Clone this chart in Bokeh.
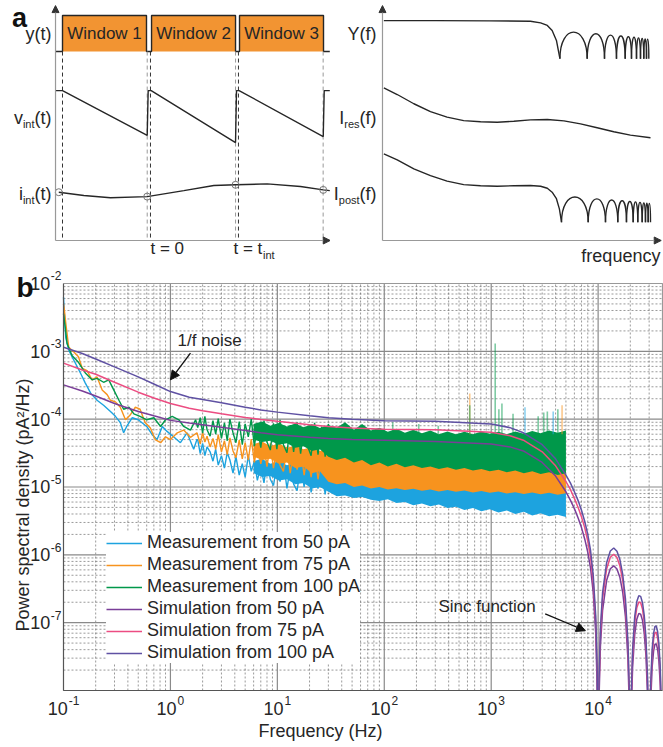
import math
from bokeh.plotting import figure
from bokeh.layouts import column, row
from bokeh.models import Arrow, NormalHead, Legend, LegendItem, Range1d
from bokeh.core.properties import value
from bokeh.embed import file_html
from bokeh.resources import INLINE

FONT = "Liberation Sans"
INK = "#262626"

# ================= panel a (schematic) data =================
# time axis in window-period units, amplitude in arbitrary 0..100 units
win_start = [0.0, 1.006, 2.0]
win_end = [0.949, 1.955, 2.949]
win_labels = ["Window 1", "Window 2", "Window 3"]
y_low, y_high = 81.8, 97.4
start_lines_t = [0.0, 0.994, 1.988]
end_lines_t = [0.957, 1.955, 2.945]

v_t = [-0.079, 0.0, 0.957, 0.968, 1.002, 1.955, 1.966, 1.995, 2.946, 2.957, 3.02]
v_val = [64.9, 64.9, 45.5, 64.9, 64.9, 42.4, 64.9, 64.9, 45.0, 64.9, 64.9]

i_t = [-0.042, 0.241, 0.542, 0.957, 1.371, 1.71, 1.955, 2.313, 2.689, 2.946, 3.02]
i_val = [20.9, 19.5, 18.5, 19.0, 21.6, 23.8, 24.1, 24.5, 23.4, 21.9, 21.6]
i_sample_t = [-0.042, 0.957, 1.955, 2.946]
i_sample_v = [20.9, 19.0, 24.1, 21.9]

# frequency-domain schematic (frequency 0..1)
Y_f = [0.005, 0.2, 0.4, 0.552, 0.59, 0.615, 0.633, 0.649, 0.662]
Y_v = [95.2, 95.2, 95.1, 94.9, 94.2, 93.1, 90.9, 86.6, 78.7]
Y_nulls = [0.662, 0.7638, 0.8284, 0.8731, 0.9056, 0.9291, 0.9478, 0.9627, 0.9750, 0.9851, 0.9937]
Y_tops = [90.2, 89.5, 88.9, 88.5, 88.2, 88.0, 87.7, 87.5, 87.3, 87.1]
Y_null_level = 78.7

Ires_f = [0.005, 0.055, 0.117, 0.179, 0.241, 0.303, 0.366, 0.428, 0.49, 0.552, 0.615, 0.677, 0.739, 0.801, 0.863, 0.925, 1.0]
Ires_v = [66.1, 63.2, 59.2, 55.8, 53.4, 51.9, 51.4, 51.2, 51.6, 52.2, 52.4, 51.8, 50.5, 48.8, 47.1, 45.6, 44.5]

Ipost_f = [0.005, 0.055, 0.117, 0.179, 0.241, 0.303, 0.366, 0.428, 0.49, 0.552, 0.59, 0.615, 0.633, 0.649, 0.660, 0.668]
Ipost_v = [37.5, 34.9, 31.0, 28.1, 25.7, 24.2, 23.7, 23.5, 23.7, 23.8, 23.5, 22.6, 20.9, 18.1, 13.7, 7.9]
Ipost_nulls = [0.668, 0.7675, 0.8321, 0.878, 0.9104, 0.9354, 0.9526, 0.969, 0.9813, 0.9914, 1.0]
Ipost_tops = [18.8, 18.0, 17.5, 17.2, 16.9, 16.7, 16.5, 16.3, 16.1, 16.0]
Ipost_null_level = 7.9

# ================= panel b data =================
# measurements: low-frequency traces
b_f = [0.1, 0.102, 0.105, 0.112, 0.125, 0.144, 0.16, 0.18, 0.206, 0.237, 0.275, 0.306, 0.34, 0.365, 0.39,
       0.44, 0.5, 0.6, 0.675, 0.75, 0.84, 0.93, 1.07, 1.24, 1.43, 1.65, 1.77]
b_v = [6.3e-3, 3.5e-3, 1.6e-3, 1.04e-3, 7.4e-4, 4.8e-4, 3.4e-4, 2.4e-4, 1.9e-4, 1.6e-4, 1.3e-4, 1.1e-4, 8.9e-5,
       6.3e-5, 7.8e-5, 1.05e-4, 9.8e-5, 7.8e-5, 5.9e-5, 5.0e-5, 7.8e-5, 6.6e-5, 5.5e-5, 4.5e-5, 6.3e-5, 3.6e-5, 5.0e-5]
o_f = [0.1, 0.102, 0.105, 0.112, 0.125, 0.138, 0.15, 0.166, 0.185, 0.206, 0.23, 0.256, 0.275, 0.306, 0.34,
       0.38, 0.42, 0.47, 0.52, 0.58, 0.65, 0.72, 0.81, 0.9, 1.0, 1.16, 1.33, 1.54, 1.77]
o_v = [5.0e-3, 4.0e-3, 2.6e-3, 1.15e-3, 9.8e-4, 8.3e-4, 5.6e-4, 5.2e-4, 3.8e-4, 4.2e-4, 2.7e-4, 2.3e-4, 1.9e-4,
       1.8e-4, 1.5e-4, 9.8e-5, 1.15e-4, 1.5e-4, 1.4e-4, 8.9e-5, 7.4e-5, 5.0e-5, 4.5e-5, 5.5e-5, 5.0e-5, 6.3e-5,
       6.9e-5, 5.4e-5, 6.3e-5]
g_f = [0.1, 0.104, 0.108, 0.12, 0.138, 0.16, 0.185, 0.206, 0.237, 0.265, 0.295, 0.33, 0.365, 0.41, 0.455,
       0.52, 0.6, 0.7, 0.81, 0.9, 1.04, 1.2, 1.33, 1.54, 1.72]
g_v = [3.6e-3, 2.2e-3, 1.3e-3, 8.7e-4, 6.9e-4, 4.8e-4, 3.8e-4, 4.0e-4, 3.5e-4, 3.8e-4, 2.7e-4, 1.9e-4, 1.4e-4,
       1.5e-4, 1.2e-4, 1.1e-4, 9.8e-5, 1.05e-4, 7.8e-5, 9.8e-5, 1.1e-4, 9.8e-5, 7.8e-5, 6.9e-5, 9.8e-5]

# measurements: mid-frequency noisy traces
f_mid = [1.8, 1.9, 2.0, 2.1, 2.2, 2.35, 2.5, 2.65, 2.8, 3.0, 3.2, 3.4, 3.6, 3.85, 4.1, 4.4, 4.7, 5.0, 5.35, 5.7,
         6.1, 6.5, 7.0, 7.5, 8.0, 8.6, 9.2, 9.9, 10.6, 11.4, 12.3, 13.2, 14.2, 15.3, 16.5, 17.8, 19.2, 20.7, 22.3,
         24, 26, 28, 30, 32.5, 35, 38, 41]
b_mid = [5.0e-5, 3.1e-5, 4.4e-5, 2.9e-5, 3.9e-5, 3.3e-5, 2.4e-5, 3.6e-5, 2.1e-5, 2.9e-5, 1.9e-5, 3.2e-5, 2.5e-5,
         1.6e-5, 2.8e-5, 1.5e-5, 2.2e-5, 1.4e-5, 2.9e-5, 1.7e-5, 2.4e-5, 1.25e-5, 2.0e-5, 1.15e-5, 2.5e-5, 1.3e-5,
         1.05e-5, 2.2e-5, 1.2e-5, 2.4e-5, 9.5e-6, 1.9e-5, 1.1e-5, 8.8e-6, 2.1e-5, 1.0e-5, 2.3e-5, 8.3e-6, 1.7e-5,
         9.5e-6, 2.0e-5, 7.8e-6, 1.8e-5, 8.5e-6, 1.95e-5, 7.6e-6, 1.7e-5]
o_mid = [5.8e-5, 4.3e-5, 6.4e-5, 4.6e-5, 5.6e-5, 3.9e-5, 5.2e-5, 3.6e-5, 5.9e-5, 3.3e-5, 4.8e-5, 3.0e-5, 5.3e-5,
         3.4e-5, 2.7e-5, 4.9e-5, 2.6e-5, 4.5e-5, 2.5e-5, 5.1e-5, 2.3e-5, 4.2e-5, 2.2e-5, 3.8e-5, 2.0e-5, 4.4e-5,
         1.9e-5, 3.6e-5, 2.1e-5, 1.7e-5, 3.9e-5, 1.6e-5, 3.4e-5, 1.8e-5, 3.7e-5, 1.5e-5, 3.2e-5, 1.4e-5, 3.5e-5,
         1.3e-5, 2.9e-5, 1.5e-5, 3.3e-5, 1.25e-5, 3.0e-5, 1.2e-5, 3.4e-5]
g_mid = [7.5e-5, 1.05e-4, 6.2e-5, 1.1e-4, 7.0e-5, 5.6e-5, 9.5e-5, 6.0e-5, 1.02e-4, 5.2e-5, 8.8e-5, 4.8e-5, 1.0e-4,
         6.3e-5, 4.5e-5, 9.2e-5, 4.2e-5, 8.5e-5, 5.5e-5, 1.0e-4, 4.0e-5, 8.0e-5, 3.8e-5, 9.5e-5, 4.6e-5, 3.5e-5,
         8.7e-5, 3.6e-5, 9.8e-5, 4.2e-5, 3.2e-5, 8.2e-5, 3.3e-5, 9.0e-5, 3.1e-5, 7.6e-5, 4.0e-5, 2.9e-5, 8.8e-5,
         3.0e-5, 7.8e-5, 2.8e-5, 8.5e-5, 3.4e-5, 2.6e-5, 8.0e-5, 2.7e-5]

# measurements: dense noise bands (lower / upper envelope)
f_hi = [6, 7.2, 8.6, 10.3, 12.3, 14.7, 17.6, 21, 25,
        30, 36, 43, 52, 62, 75, 90, 108, 130, 156, 187, 225, 270, 324, 390, 468, 562, 675, 810, 970, 1170,
        1400, 1680, 2020, 2420, 2900, 3480, 4180, 5000]
b_lo = [1.6e-5, 1.4e-5, 1.45e-5, 1.25e-5, 1.3e-5, 1.1e-5, 1.15e-5, 9.5e-6, 1.0e-5,
        8.5e-6, 7.3e-6, 7.5e-6, 6.9e-6, 7.1e-6, 6.5e-6, 6.2e-6, 6.6e-6, 5.8e-6, 6.0e-6, 5.4e-6, 5.7e-6, 5.2e-6,
        5.5e-6, 4.9e-6, 5.1e-6, 4.6e-6, 4.9e-6, 4.4e-6, 4.7e-6, 4.2e-6, 4.5e-6, 4.0e-6, 4.3e-6, 3.8e-6, 4.1e-6,
        3.7e-6, 3.9e-6, 3.6e-6]
b_hi = [2.4e-5, 2.6e-5, 2.2e-5, 2.4e-5, 2.1e-5, 2.3e-5, 2.0e-5, 2.2e-5, 1.9e-5,
        1.9e-5, 2.1e-5, 1.8e-5, 2.0e-5, 1.7e-5, 1.5e-5, 1.6e-5, 1.4e-5, 1.5e-5, 1.35e-5, 1.4e-5, 1.3e-5, 1.35e-5,
        1.25e-5, 1.3e-5, 1.2e-5, 1.25e-5, 1.15e-5, 1.2e-5, 1.1e-5, 1.15e-5, 1.05e-5, 1.1e-5, 1.05e-5, 1.1e-5,
        1.0e-5, 1.05e-5, 1.0e-5, 1.05e-5]
o_lo = [2.8e-5, 2.5e-5, 2.6e-5, 2.2e-5, 2.3e-5, 1.9e-5, 2.0e-5, 1.6e-5, 1.7e-5,
        1.2e-5, 1.1e-5, 1.15e-5, 1.0e-5, 1.05e-5, 9.5e-6, 1.0e-5, 9.2e-6, 9.6e-6, 9.0e-6, 9.4e-6, 8.8e-6, 9.2e-6,
        8.6e-6, 9.0e-6, 8.5e-6, 8.9e-6, 8.3e-6, 8.7e-6, 8.2e-6, 8.6e-6, 8.0e-6, 8.4e-6, 7.9e-6, 8.3e-6, 7.8e-6,
        8.2e-6, 7.7e-6, 8.1e-6]
o_hi = [4.3e-5, 4.7e-5, 4.0e-5, 4.4e-5, 3.8e-5, 4.1e-5, 3.6e-5, 3.9e-5, 3.4e-5,
        3.8e-5, 3.3e-5, 3.6e-5, 3.0e-5, 3.2e-5, 2.6e-5, 2.8e-5, 2.4e-5, 2.6e-5, 2.3e-5, 2.4e-5, 2.2e-5, 2.3e-5,
        2.1e-5, 2.2e-5, 2.05e-5, 2.15e-5, 2.0e-5, 2.1e-5, 1.95e-5, 2.05e-5, 1.9e-5, 2.0e-5, 1.9e-5, 2.0e-5,
        1.85e-5, 1.95e-5, 1.85e-5, 1.9e-5]
g_lo = [5.0e-5, 4.6e-5, 4.8e-5, 4.2e-5, 4.4e-5, 3.8e-5, 4.0e-5, 3.4e-5, 3.6e-5,
        2.8e-5, 2.5e-5, 2.7e-5, 2.3e-5, 2.5e-5, 2.1e-5, 2.3e-5, 2.0e-5, 2.2e-5, 1.95e-5, 2.1e-5, 1.9e-5, 2.0e-5,
        1.85e-5, 1.95e-5, 1.8e-5, 1.9e-5, 1.75e-5, 1.85e-5, 1.7e-5, 1.8e-5, 1.65e-5, 1.75e-5, 1.6e-5, 1.7e-5,
        1.55e-5, 1.65e-5, 1.5e-5, 1.6e-5]
g_hi = [8.5e-5, 9.2e-5, 8.0e-5, 8.8e-5, 7.8e-5, 8.6e-5, 7.6e-5, 8.4e-5, 7.4e-5,
        8.2e-5, 7.5e-5, 9.0e-5, 7.0e-5, 8.5e-5, 6.8e-5, 7.5e-5, 6.5e-5, 7.2e-5, 6.3e-5, 7.0e-5, 6.2e-5, 6.8e-5,
        6.0e-5, 6.6e-5, 6.0e-5, 6.5e-5, 6.0e-5, 6.6e-5, 6.1e-5, 6.5e-5, 6.0e-5, 6.6e-5, 6.1e-5, 6.7e-5, 6.2e-5,
        6.8e-5, 6.3e-5, 6.8e-5]

# isolated spectral spikes
spike_f = [120, 210, 320, 630, 630, 1090, 1180, 1260, 1600, 2070, 2750, 3100, 3350, 3800, 4200, 4600]
spike_top = [9.0e-5, 8.5e-5, 8.0e-5, 2.4e-4, 1.6e-4, 1.3e-3, 1.4e-4, 1.7e-4, 1.2e-4, 1.5e-4, 1.1e-4, 1.25e-4,
             1.3e-4, 1.3e-4, 1.4e-4, 1.6e-4]
spike_base = [6.0e-5] * 16
spike_series = ["100", "100", "100", "75", "100", "100", "100", "100", "100", "50", "100", "100", "100", "50",
                "100", "75"]

# simulations
f_sim = [0.1, 0.15, 0.2, 0.3, 0.5, 0.7, 1, 1.5, 2, 3, 5, 7, 10, 20, 30, 50, 100, 300, 1000,
         1500, 2000, 3000, 4000, 5000, 5500, 6000, 6500, 7000, 7500, 8000, 8500, 9000, 9500, 9800, 10000,
         10200, 10500, 11000, 12000, 13000, 14000, 15000, 16000, 17000, 18000, 19000, 19500, 19800, 20000,
         20200, 20500, 21000, 22000, 23000, 24000, 25000, 26000, 27000, 28000, 29000, 29500, 30000,
         30500, 31000, 32000, 33000, 34000, 35000, 36000, 37000, 38000, 39000, 39500, 40000]
sim100 = [1.15e-3, 9.3e-4, 7.7e-4, 5.9e-4, 4.2e-4, 3.3e-4, 2.55e-4, 2.1e-4, 1.95e-4, 1.75e-4, 1.5e-4, 1.37e-4,
          1.27e-4, 1.12e-4, 1.05e-4, 1.0e-4, 9.5e-5, 9.3e-5, 8.5e-5,
          7.5e-5, 6.3e-5, 4.2e-5, 2.6e-5, 1.5e-5, 1.15e-5, 8.5e-6, 6.3e-6, 4.5e-6, 3.1e-6, 2.0e-6, 1.15e-6,
          5.0e-7, 1.25e-7, 2.0e-8, 1e-11,
          1.42e-8, 8.07e-8, 2.74e-7, 7.64e-7, 1.14e-6, 1.26e-6, 1.13e-6, 8.44e-7, 5.09e-7, 2.26e-7, 5.32e-8,
          1.26e-8, 1.94e-9, 1e-11,
          1.83e-9, 1.09e-8, 3.94e-8, 1.24e-7, 2.05e-7, 2.5e-7, 2.44e-7, 1.97e-7, 1.27e-7, 6.01e-8, 1.5e-8,
          3.64e-9, 1e-11,
          3.3e-9, 1.22e-8, 4.03e-8, 6.96e-8, 8.79e-8, 8.91e-8, 7.4e-8, 4.94e-8, 2.41e-8, 6.15e-9, 1.52e-9, 1e-11]
sim75 = [6.7e-4, 5.3e-4, 4.6e-4, 3.5e-4, 2.5e-4, 2.05e-4, 1.7e-4, 1.45e-4, 1.33e-4, 1.2e-4, 1.06e-4, 9.9e-5,
         9.3e-5, 8.3e-5, 7.8e-5, 7.4e-5, 7.1e-5, 7.0e-5, 6.4e-5,
         5.7e-5, 4.9e-5, 3.3e-5, 2.05e-5, 1.2e-5, 9.2e-6, 6.8e-6, 5.0e-6, 3.6e-6, 2.5e-6, 1.6e-6, 9.2e-7,
         4.0e-7, 1.0e-7, 1.6e-8, 1e-11,
         1.15e-8, 6.53e-8, 2.22e-7, 6.18e-7, 9.22e-7, 1.02e-6, 9.14e-7, 6.83e-7, 4.12e-7, 1.83e-7, 4.3e-8,
         1.02e-8, 1.57e-9, 1e-11,
         1.48e-9, 8.8e-9, 3.19e-8, 1.0e-7, 1.66e-7, 2.02e-7, 1.97e-7, 1.59e-7, 1.03e-7, 4.86e-8, 1.21e-8,
         2.94e-9, 1e-11,
         2.67e-9, 9.87e-9, 3.26e-8, 5.63e-8, 7.11e-8, 7.21e-8, 5.99e-8, 4.0e-8, 1.95e-8, 4.98e-9, 1.23e-9, 1e-11]
sim50 = [3.2e-4, 2.6e-4, 2.2e-4, 1.7e-4, 1.3e-4, 1.12e-4, 9.6e-5, 8.8e-5, 8.3e-5, 7.6e-5, 6.8e-5, 6.3e-5,
         5.9e-5, 5.4e-5, 5.2e-5, 5.0e-5, 4.9e-5, 4.7e-5, 4.3e-5,
         3.9e-5, 3.4e-5, 2.3e-5, 1.45e-5, 8.5e-6, 6.4e-6, 4.8e-6, 3.5e-6, 2.5e-6, 1.7e-6, 1.1e-6, 6.3e-7,
         2.8e-7, 7.0e-8, 1.1e-8, 1e-11,
         7.8e-9, 4.41e-8, 1.5e-7, 4.18e-7, 6.24e-7, 6.89e-7, 6.18e-7, 4.62e-7, 2.78e-7, 1.24e-7, 2.91e-8,
         6.9e-9, 1.06e-9, 1e-11,
         1.0e-9, 5.96e-9, 2.16e-8, 6.78e-8, 1.12e-7, 1.37e-7, 1.33e-7, 1.08e-7, 6.95e-8, 3.29e-8, 8.2e-9,
         1.99e-9, 1e-11,
         1.8e-9, 6.67e-9, 2.2e-8, 3.81e-8, 4.81e-8, 4.87e-8, 4.05e-8, 2.7e-8, 1.32e-8, 3.36e-9, 8.3e-10, 1e-11]

legend_labels = ["Measurement from 50 pA", "Measurement from 75 pA", "Measurement from 100 pA",
                 "Simulation from 50 pA", "Simulation from 75 pA", "Simulation from 100 pA"]
x_tick_vals = [0.1, 1, 10, 100, 1000, 10000]
y_tick_vals = [1e-7, 1e-6, 1e-5, 1e-4, 1e-3, 1e-2]
X_LIM = (0.1, 4e4)
Y_LIM = (1e-8, 1e-2)

C_B, C_O, C_G = "#1DA3DF", "#F7931E", "#00984A"
C_S50, C_S75, C_S100 = "#7A3E98", "#EC4D82", "#5F51A3"
SPIKE_C = {"50": C_B, "75": C_O, "100": C_G}
ORANGE = "#F29432"

TOP_H = 266
LEFT_W = 330


def txt(p, x, y, s, size="18px", align="left", base="middle", xo=0, yo=0, style="normal", color=INK, angle=0):
    p.text(x=[x], y=[y], text=[s], text_font=value(FONT), text_font_size=size, text_align=align,
           text_baseline=base, x_offset=xo, y_offset=yo, text_font_style=style, text_color=color, angle=angle)


def bare(p):
    p.grid.visible = False
    p.outline_line_color = None
    p.min_border = 0


def head():
    return NormalHead(size=7, fill_color="#333", line_color="#333")


# ---------------- panel a, left ----------------
pA1 = figure(width=LEFT_W, height=TOP_H, x_range=Range1d(-0.7006, 3.028), y_range=Range1d(-11.26, 103.9),
             output_backend="svg", toolbar_location=None, x_axis_location=None, y_axis_location=None,
             min_border=0)
bare(pA1)
ax0 = -0.079
pA1.add_layout(Arrow(end=head(), x_start=ax0, y_start=0, x_end=ax0, y_end=101.7, line_color="#999", line_width=1.2))
pA1.add_layout(Arrow(end=head(), x_start=ax0, y_start=0, x_end=3.025, y_end=0, line_color="#999", line_width=1.2))
pA1.quad(left=win_start, right=win_end, bottom=y_low, top=y_high, fill_color=ORANGE, line_color=None)
sx, sy = [ax0], [y_low]
for s, e in zip(win_start, win_end):
    sx += [s, s, e, e]
    sy += [y_low, y_high, y_high, y_low]
sx.append(3.02); sy.append(y_low)
pA1.line(sx, sy, line_color=INK, line_width=1.4)
pA1.segment(x0=start_lines_t, y0=y_low, x1=start_lines_t, y1=0, line_dash="4 3", line_color="#333", line_width=1)
pA1.segment(x0=end_lines_t, y0=y_low, x1=end_lines_t, y1=0, line_dash="4 3", line_color="#999", line_width=1)
pA1.line(v_t, v_val, line_color=INK, line_width=1.4)
pA1.line(i_t, i_val, line_color=INK, line_width=1.4)
pA1.scatter(i_sample_t, i_sample_v, marker="circle", size=7, fill_color=None, line_color="#777", line_width=1)
for s, e, lab in zip(win_start, win_end, win_labels):
    txt(pA1, (s + e) / 2, (y_low + y_high) / 2, lab, size="17px", align="center")
txt(pA1, -0.486, 96.5, "a", size="27px", align="center", style="bold", color="#111")
lx = -0.124
txt(pA1, lx, 89.6, "y(t)", align="right")
txt(pA1, lx, 53.2, "(t)", align="right")
txt(pA1, lx, 53.2, "int", size="11px", align="right", xo=-17, yo=6)
txt(pA1, lx, 53.2, "v", align="right", xo=-28.6)
txt(pA1, lx, 20.3, "(t)", align="right")
txt(pA1, lx, 20.3, "int", size="11px", align="right", xo=-17, yo=6)
txt(pA1, lx, 20.3, "i", align="right", xo=-28.6)
txt(pA1, 0.994, -3.5, "t = 0", size="17px")
txt(pA1, 1.932, -3.5, "t = t", size="17px")
txt(pA1, 1.932, -3.5, "int", size="11px", xo=29.5, yo=6)

# ---------------- panel a, right ----------------
pA2 = figure(width=663 - LEFT_W, height=TOP_H, x_range=Range1d(-0.194, 1.0485), y_range=Range1d(-11.26, 103.9),
             output_backend="svg", toolbar_location=None, x_axis_location=None, y_axis_location=None,
             min_border=0)
bare(pA2)
pA2.add_layout(Arrow(end=head(), x_start=0, y_start=0, x_end=0, y_end=101.7, line_color="#999", line_width=1.2))
pA2.add_layout(Arrow(end=head(), x_start=0, y_start=0, x_end=1.04, y_end=0, line_color="#999", line_width=1.2))


def lobes(p, nulls, tops, level):
    x0, x1 = nulls[:-1], nulls[1:]
    h = [(8 * t - 2 * level) / 6 for t in tops]
    p.bezier(x0=x0, y0=level, x1=x1, y1=level, cx0=x0, cy0=h, cx1=x1, cy1=h, line_color=INK, line_width=1.4)


pA2.line(Y_f, Y_v, line_color=INK, line_width=1.4)
lobes(pA2, Y_nulls, Y_tops, Y_null_level)
pA2.line(Ires_f, Ires_v, line_color=INK, line_width=1.4)
pA2.line(Ipost_f, Ipost_v, line_color=INK, line_width=1.4)
lobes(pA2, Ipost_nulls, Ipost_tops, Ipost_null_level)
rx = -0.022
txt(pA2, rx, 89.6, "Y(f)", align="right")
txt(pA2, rx, 53.2, "(f)", align="right")
txt(pA2, rx, 53.2, "res", size="11px", align="right", xo=-17, yo=6)
txt(pA2, rx, 53.2, "I", align="right", xo=-32.3)
txt(pA2, rx, 20.3, "(f)", align="right")
txt(pA2, rx, 20.3, "post", size="11px", align="right", xo=-17, yo=6)
txt(pA2, rx, 20.3, "I", align="right", xo=-37.8)
txt(pA2, 1.037, -6.5, "frequency", align="right")

# ---------------- panel b (whole canvas is the frame; axes drawn here) ----------------
pB = figure(width=663, height=747 - TOP_H, x_axis_type="log", y_axis_type="log",
            x_range=Range1d(10 ** -1.58917, 10 ** 4.61141), y_range=Range1d(10 ** -8.84030, 10 ** -1.74939),
            output_backend="svg", toolbar_location=None, x_axis_location=None, y_axis_location=None,
            min_border=0)
bare(pB)
x0l, x1l = X_LIM
y0l, y1l = Y_LIM
x_minor = [m * 10.0 ** k for k in range(-1, 5) for m in range(2, 10) if m * 10.0 ** k < x1l]
y_minor = [m * 10.0 ** k for k in range(-8, -2) for m in range(2, 10)]
minor_style = dict(line_color="#555", line_alpha=0.75, line_dash="2 2", line_width=0.8)
major_style = dict(line_color="#8a8a8a", line_width=1.2)
pB.segment(x0=x_minor, y0=y0l, x1=x_minor, y1=y1l, **minor_style)
pB.segment(x0=x0l, y0=y_minor, x1=x1l, y1=y_minor, **minor_style)
pB.segment(x0=x_tick_vals[1:], y0=y0l, x1=x_tick_vals[1:], y1=y1l, **major_style)
pB.segment(x0=x0l, y0=y_tick_vals[:-1], x1=x1l, y1=y_tick_vals[:-1], **major_style)

r_b = pB.line(b_f + f_mid, b_v + b_mid, line_color=C_B, line_width=1.4)
pB.varea(x=f_hi, y1=b_lo, y2=b_hi, fill_color=C_B)
r_o = pB.line(o_f + f_mid, o_v + o_mid, line_color=C_O, line_width=1.4)
pB.varea(x=f_hi, y1=o_lo, y2=o_hi, fill_color=C_O)
r_g = pB.line(g_f + f_mid, g_v + g_mid, line_color=C_G, line_width=1.4)
pB.varea(x=f_hi, y1=g_lo, y2=g_hi, fill_color=C_G)
pB.segment(x0=spike_f, y0=spike_base, x1=spike_f, y1=spike_top,
           line_color=[SPIKE_C[s] for s in spike_series], line_alpha=0.5, line_width=1.6)
r_s50 = pB.line(f_sim, sim50, line_color=C_S50, line_width=1.5)
r_s75 = pB.line(f_sim, sim75, line_color=C_S75, line_width=1.5)
r_s100 = pB.line(f_sim, sim100, line_color=C_S100, line_width=1.5)

# clip everything below the plotting area, then frame + axes
xr, yr = pB.x_range, pB.y_range
pB.quad(left=xr.start, right=xr.end, bottom=yr.start, top=y0l, fill_color="white", line_color=None)
pB.line([x0l, x1l, x1l], [y1l, y1l, y0l], line_color="#999", line_width=1.2)
pB.line([x0l, x0l, x1l], [y1l, y0l, y0l], line_color="#555", line_width=1.2)

# tick labels: "10" with superscript exponent
TICK_FS, EXP_FS = 18, 12
W10 = 1.112 * TICK_FS


def exp_w(s):
    return sum(0.333 if c == "-" else 0.556 for c in s) * EXP_FS


y_exps = [str(int(round(math.log10(v)))) for v in y_tick_vals]
pB.text(x=[x0l] * len(y_tick_vals), y=y_tick_vals, text=["10"] * len(y_tick_vals),
        x_offset=[-(2.5 + exp_w(e)) for e in y_exps], text_align="right", text_baseline="middle",
        text_font=value(FONT), text_font_size=f"{TICK_FS}px", text_color=INK)
pB.text(x=[x0l] * len(y_tick_vals), y=y_tick_vals, text=y_exps, x_offset=-2, y_offset=-7.5,
        text_align="right", text_baseline="middle", text_font=value(FONT), text_font_size=f"{EXP_FS}px",
        text_color=INK)
x_exps = [str(int(round(math.log10(v)))) for v in x_tick_vals]
half = [(W10 + 1 + exp_w(e)) / 2 for e in x_exps]
pB.text(x=x_tick_vals, y=[y0l] * len(x_tick_vals), text=["10"] * len(x_tick_vals),
        x_offset=[-h for h in half], y_offset=18, text_align="left", text_baseline="middle",
        text_font=value(FONT), text_font_size=f"{TICK_FS}px", text_color=INK)
pB.text(x=x_tick_vals, y=[y0l] * len(x_tick_vals), text=x_exps,
        x_offset=[-h + W10 + 1 for h in half], y_offset=10.5, text_align="left", text_baseline="middle",
        text_font=value(FONT), text_font_size=f"{EXP_FS}px", text_color=INK)

txt(pB, 0.0422, 5.91e-6, "Power spectral density  (pA²/Hz)", align="center", angle=math.pi / 2)
txt(pB, 25.3, 2.57e-9, "Frequency (Hz)", align="center")
txt(pB, 0.0436, 8.73e-3, "b", size="28px", align="center", style="bold", color="#111")
txt(pB, 1.165, 1.46e-3, "1/f noise", size="17px")
txt(pB, 321, 1.71e-7, "Sinc function", size="17px")
pB.add_layout(Arrow(end=NormalHead(size=9, fill_color="#111", line_color="#111"), x_start=1.54, y_start=9.4e-4,
                    x_end=1.0, y_end=3.8e-4, line_color="#111", line_width=1.3))
pB.add_layout(Arrow(end=NormalHead(size=9, fill_color="#111", line_color="#111"), x_start=3200, y_start=1.35e-7,
                    x_end=7600, y_end=7.6e-8, line_color="#111", line_width=1.3))

legend = Legend(items=[LegendItem(label=l, renderers=[r]) for l, r in
                       zip(legend_labels, [r_b, r_o, r_g, r_s50, r_s75, r_s100])],
                location=(106, 84), label_text_font=FONT, label_text_font_size="18px", label_text_color=INK,
                glyph_width=36, glyph_height=20, label_standoff=5, spacing=1, padding=6, margin=0,
                border_line_color=None, background_fill_color="white", background_fill_alpha=1)
pB.add_layout(legend)

layout = column(row(pA1, pA2), pB)
open("out.html", "w").write(file_html(layout, INLINE))
